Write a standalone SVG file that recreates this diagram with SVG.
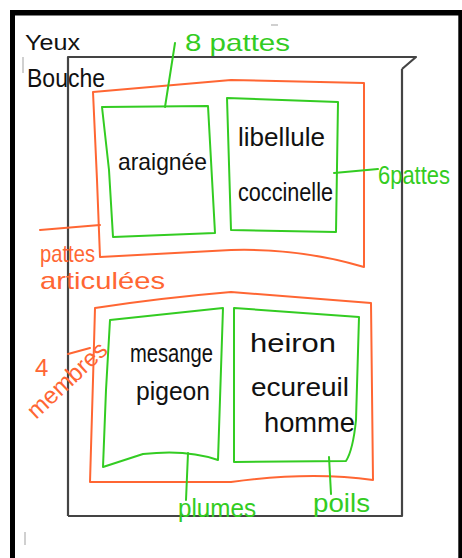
<svg xmlns="http://www.w3.org/2000/svg" width="462" height="558" viewBox="0 0 462 558">
<style>
.blk{fill:#000}
.frame{fill:none;stroke:#444;stroke-width:2.2;stroke-linejoin:round}
.or{fill:none;stroke:#FF6633;stroke-width:2;stroke-linejoin:round;stroke-linecap:round}
.gr{fill:none;stroke:#33CC22;stroke-width:2;stroke-linejoin:round;stroke-linecap:round}
text{font-family:"Liberation Sans",Arial,sans-serif}
.tb{fill:#111}
.to{fill:#FF6633}
.tg{fill:#33CC22}
.mark{fill:#d0d0d0}
</style>
<rect width="462" height="558" fill="#fff"/>
<g id="border">
<rect class="blk" x="10" y="10" width="452" height="5.5"/>
<rect class="blk" x="10" y="10" width="5" height="548"/>
<rect class="blk" x="458.3" y="10" width="3.7" height="548"/>
<rect class="mark" x="22" y="57" width="2" height="16"/>
<rect class="mark" x="24" y="532" width="2" height="13"/>
<rect class="mark" x="271" y="24" width="7" height="2"/>
</g>
<g id="frame">
<path class="frame" d="M68,516 L68,57 L416,57 L402,69 M402,69 L402,516 L68,516"/>
</g>
<g id="label-yeux-bouche">
<text class="tb" x="25" y="50" font-size="22" textLength="55" lengthAdjust="spacingAndGlyphs">Yeux</text>
<text class="tb" x="27" y="87" font-size="26" textLength="78" lengthAdjust="spacingAndGlyphs">Bouche</text>
</g>
<g id="group-pattes-articulees">
<path class="or" d="M93,92 L231,80 L364,83 L364,267 Q300,248 231,250 L100,257 L97,180 Z"/>
<text class="to" x="40" y="262" font-size="24" textLength="55" lengthAdjust="spacingAndGlyphs">pattes</text>
<text class="to" x="40" y="289" font-size="24" textLength="125" lengthAdjust="spacingAndGlyphs">articulées</text>
</g>
<g id="node-araignee">
<path class="gr" d="M102,107 L208,106 L215,233 L113,237 L109,170 Z"/>
<text class="tb" x="118" y="170" font-size="24" textLength="89" lengthAdjust="spacingAndGlyphs">araignée</text>
</g>
<g id="node-libellule-coccinelle">
<path class="gr" d="M227,98 L338,102 L336,232 L231,230 Z"/>
<text class="tb" x="238" y="146" font-size="26" textLength="87" lengthAdjust="spacingAndGlyphs">libellule</text>
<text class="tb" x="238" y="201" font-size="26" textLength="95" lengthAdjust="spacingAndGlyphs">coccinelle</text>
</g>
<g id="label-8pattes">
<text class="tg" x="185" y="51" font-size="24" textLength="105" lengthAdjust="spacingAndGlyphs">8 pattes</text>
</g>
<g id="label-6pattes">
<text class="tg" x="378" y="184" font-size="26" textLength="72" lengthAdjust="spacingAndGlyphs">6pattes</text>
</g>
<g id="group-4-membres">
<path class="or" d="M95,308 Q160,298 231,292 L371,303 L373,480 Q311,471 231,482 L90,482 L93,380 Z"/>
<text class="to" x="35" y="376" font-size="24">4</text>
<text class="to" x="0" y="0" font-size="24" textLength="100" lengthAdjust="spacingAndGlyphs" transform="translate(36,420) rotate(-43)">membres</text>
</g>
<g id="node-mesange-pigeon">
<path class="gr" d="M110,320 L223,308 L218,460 Q187,449 143,454 L103,467 L106,390 Z"/>
<text class="tb" x="130" y="362" font-size="26" textLength="83" lengthAdjust="spacingAndGlyphs">mesange</text>
<text class="tb" x="136" y="400" font-size="26" textLength="74" lengthAdjust="spacingAndGlyphs">pigeon</text>
</g>
<g id="node-heron-ecureuil-homme">
<path class="gr" d="M234,308 L359,317 L356,420 Q353,450 346,461 L234,462 Z"/>
<text class="tb" x="250" y="352" font-size="26" textLength="86" lengthAdjust="spacingAndGlyphs">heiron</text>
<text class="tb" x="251" y="396" font-size="26" textLength="98" lengthAdjust="spacingAndGlyphs">ecureuil</text>
<text class="tb" x="264" y="432" font-size="28" textLength="91" lengthAdjust="spacingAndGlyphs">homme</text>
</g>
<g id="label-plumes">
<text class="tg" x="178" y="517" font-size="26" textLength="78" lengthAdjust="spacingAndGlyphs">plumes</text>
</g>
<g id="label-poils">
<text class="tg" x="313" y="512" font-size="26" textLength="57" lengthAdjust="spacingAndGlyphs">poils</text>
</g>
<g id="connectors">
<path class="gr" d="M175,43 L165,107"/>
<path class="gr" d="M334,173 L378,169"/>
<path class="or" d="M40,230 L100,225"/>
<path class="or" d="M68,354 L90,348"/>
<path class="gr" d="M188,453 L186,500"/>
<path class="gr" d="M329,457 L331,494"/>
</g>
</svg>
